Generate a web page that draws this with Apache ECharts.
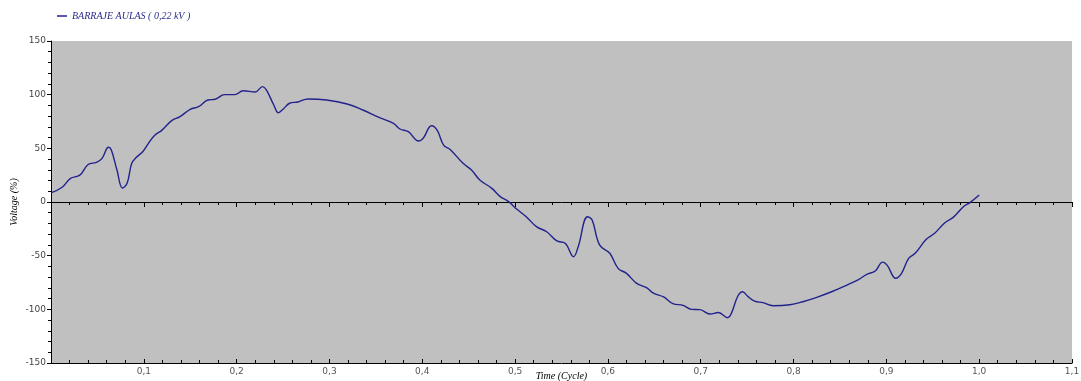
<!DOCTYPE html>
<html>
<head>
<meta charset="utf-8">
<script src="https://cdn.jsdelivr.net/npm/echarts@6/dist/echarts.min.js"></script>
<style>
html, body { margin: 0; padding: 0; background: #fff; }
#chart { width: 1081px; height: 381px; }
</style>
</head>
<body>
<div id="chart"></div>
<script>
// time in cycles, voltage in %
var timeCycle = [
  0, 0.012, 0.021, 0.031, 0.040, 0.049, 0.055, 0.062, 0.065, 0.071,
  0.077, 0.082, 0.087, 0.092, 0.099, 0.105, 0.112, 0.119, 0.130, 0.139,
  0.150, 0.159, 0.169, 0.177, 0.187, 0.198, 0.207, 0.220, 0.228, 0.232,
  0.240, 0.245, 0.250, 0.257, 0.266, 0.277, 0.297, 0.319, 0.336, 0.354,
  0.369, 0.376, 0.385, 0.396, 0.401, 0.410, 0.416, 0.423, 0.430, 0.444,
  0.453, 0.462, 0.475, 0.484, 0.493, 0.502, 0.512, 0.523, 0.534, 0.545,
  0.554, 0.563, 0.568, 0.578, 0.583, 0.591, 0.602, 0.611, 0.620, 0.631,
  0.642, 0.649, 0.660, 0.670, 0.681, 0.690, 0.699, 0.710, 0.719, 0.729,
  0.733, 0.740, 0.745, 0.751, 0.758, 0.767, 0.778, 0.796, 0.810, 0.825,
  0.841, 0.857, 0.870, 0.879, 0.888, 0.896, 0.901, 0.910, 0.916, 0.924,
  0.931, 0.943, 0.952, 0.963, 0.972, 0.983, 0.990, 1.000
];
var voltage = [
  8.5, 13.7, 22, 25, 35, 37, 40.7, 51, 48.5, 30,
  13, 17.4, 36, 41.6, 47, 54.7, 62.4, 66.5, 75.8, 79.5,
  86.4, 88.8, 95, 95.7, 100, 100, 103.7, 102.5, 107.5, 104.4,
  90.4, 83.2, 86.4, 92, 93.2, 96, 95, 91.3, 85.7, 78.6,
  73.3, 68, 65.5, 56.8, 59.4, 71.1, 67, 53, 49, 36,
  29.8, 20.5, 12.7, 5, 0.3, -6.8, -13.7, -23, -27.7, -36.3,
  -38.5, -51, -41.6, -13.7, -16.8, -40, -47.8, -61.8, -66.5, -75.8,
  -80, -85, -88.5, -94.7, -96.3, -100, -100.3, -104.4, -103, -107.8,
  -103.8, -87.6, -83.6, -88.2, -92.3, -93.8, -96.6, -95.7, -92.9, -88.8,
  -83.6, -77.6, -72.3, -67.4, -64.3, -56, -59, -71.1, -67, -52.5,
  -47.8, -34.8, -29.2, -19.3, -14.3, -4.4, -0.6, 6.5
];
var seriesName = 'BARRAJE AULAS ( 0,22 kV )';

var points = timeCycle.map(function (t, i) { return [t, voltage[i]]; });

var chart = echarts.init(document.getElementById('chart'));

var xBase = {
  type: 'value',
  min: 0,
  max: 1.1,
  interval: 0.1,
  splitLine: { show: false },
  axisLine: { onZero: true, lineStyle: { color: '#000', width: 1 } }
};

chart.setOption({
  animation: false,
  backgroundColor: '#fff',
  grid: {
    left: 51, right: 9, top: 41, bottom: 18,
    outerBoundsMode: 'none',
    containLabel: false,
    show: true, backgroundColor: '#c0c0c0', borderWidth: 0
  },
  legend: {
    left: 52,
    top: 6,
    icon: 'rect',
    itemWidth: 10,
    itemHeight: 1.5,
    itemGap: 5,
    textStyle: { fontFamily: 'Liberation Serif', fontStyle: 'italic', fontSize: 10, color: '#2a2a8a' },
    data: [seriesName]
  },
  xAxis: [
    Object.assign({}, xBase, {
      position: 'bottom',
      axisTick: { show: true, inside: false, length: 5, lineStyle: { color: '#000' } },
      minorTick: { show: true, splitNumber: 5, length: 3, lineStyle: { color: '#000' } },
      axisLabel: {
        margin: 4,
        fontFamily: 'DejaVu Sans',
        fontSize: 9,
        color: '#555',
        formatter: function (v) { return v === 0 ? '' : v.toFixed(1).replace('.', ','); }
      }
    }),
    Object.assign({}, xBase, {
      position: 'bottom',
      axisTick: { show: true, inside: true, length: 4, lineStyle: { color: '#000' } },
      minorTick: { show: true, splitNumber: 5, length: 3, lineStyle: { color: '#000' } },
      axisLabel: { show: false }
    }),
    {
      type: 'value',
      min: 0,
      max: 1.1,
      position: 'bottom',
      axisLine: { show: false, onZero: false },
      axisTick: { show: false },
      axisLabel: { show: false },
      splitLine: { show: false },
      name: 'Time (Cycle)',
      nameLocation: 'middle',
      nameGap: 8,
      nameTextStyle: { fontFamily: 'Liberation Serif', fontStyle: 'italic', fontSize: 10, color: '#000' }
    }
  ],
  yAxis: {
    type: 'value',
    min: -150,
    max: 150,
    interval: 50,
    splitLine: { show: false },
    axisLine: { show: true, onZero: false, lineStyle: { color: '#000' } },
    axisTick: { show: true, length: 4, lineStyle: { color: '#000' } },
    minorTick: { show: true, splitNumber: 5, length: 3, lineStyle: { color: '#000' } },
    axisLabel: { margin: 5, fontFamily: 'DejaVu Sans', fontSize: 9, color: '#444' },
    name: 'Voltage (%)',
    nameLocation: 'middle',
    nameGap: 32,
    nameMoveOverlap: false,
    nameTextStyle: { fontFamily: 'Liberation Serif', fontStyle: 'italic', fontSize: 10, color: '#000' }
  },
  series: [{
    name: seriesName,
    type: 'line',
    xAxisIndex: 0,
    data: points,
    showSymbol: false,
    smooth: 0.4,
    lineStyle: { color: '#22228c', width: 1.4 },
    itemStyle: { color: '#22228c' }
  }]
});
</script>
</body>
</html>
